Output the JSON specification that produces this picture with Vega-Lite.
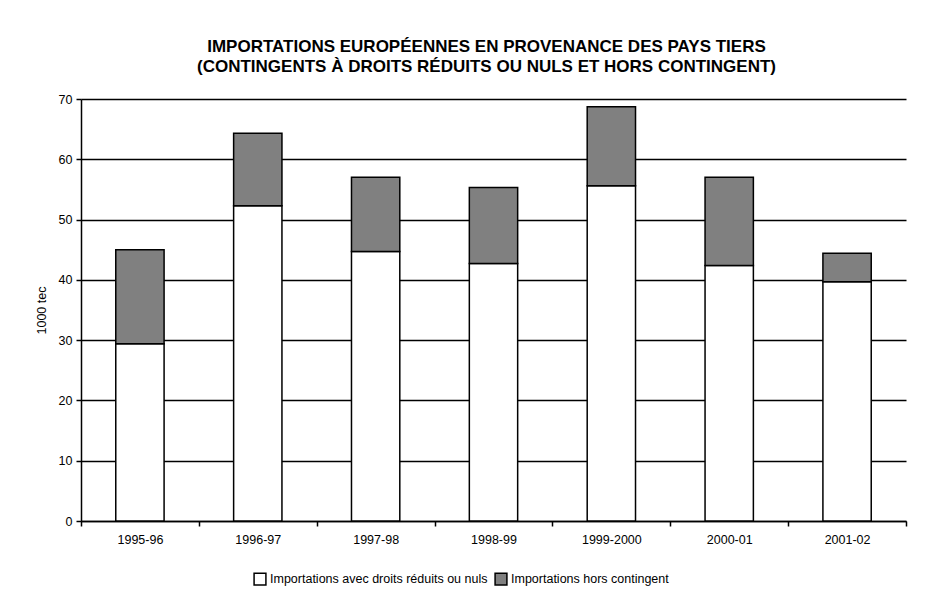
{
  "$schema": "https://vega.github.io/schema/vega-lite/v6.json",
  "autosize": "none",
  "width": 825,
  "height": 422,
  "padding": {"left": 81, "top": 99, "right": 23, "bottom": 71},
  "background": "white",
  "title": {
    "text": ["IMPORTATIONS EUROPÉENNES EN PROVENANCE DES PAYS TIERS", "(CONTINGENTS À DROITS RÉDUITS OU NULS ET HORS CONTINGENT)"],
    "font": "Liberation Sans",
    "fontSize": 17,
    "fontWeight": "bold",
    "color": "black",
    "lineHeight": 20,
    "offset": 17,
    "anchor": "middle",
    "dx": -7
  },
  "data": {
    "values": [
      {"campagne": "1995-96", "serie": "Importations avec droits réduits ou nuls", "ordre": 1, "valeur": 29.4},
      {"campagne": "1995-96", "serie": "Importations hors contingent", "ordre": 2, "valeur": 15.6},
      {"campagne": "1996-97", "serie": "Importations avec droits réduits ou nuls", "ordre": 1, "valeur": 52.3},
      {"campagne": "1996-97", "serie": "Importations hors contingent", "ordre": 2, "valeur": 12.0},
      {"campagne": "1997-98", "serie": "Importations avec droits réduits ou nuls", "ordre": 1, "valeur": 44.7},
      {"campagne": "1997-98", "serie": "Importations hors contingent", "ordre": 2, "valeur": 12.3},
      {"campagne": "1998-99", "serie": "Importations avec droits réduits ou nuls", "ordre": 1, "valeur": 42.7},
      {"campagne": "1998-99", "serie": "Importations hors contingent", "ordre": 2, "valeur": 12.6},
      {"campagne": "1999-2000", "serie": "Importations avec droits réduits ou nuls", "ordre": 1, "valeur": 55.6},
      {"campagne": "1999-2000", "serie": "Importations hors contingent", "ordre": 2, "valeur": 13.1},
      {"campagne": "2000-01", "serie": "Importations avec droits réduits ou nuls", "ordre": 1, "valeur": 42.4},
      {"campagne": "2000-01", "serie": "Importations hors contingent", "ordre": 2, "valeur": 14.6},
      {"campagne": "2001-02", "serie": "Importations avec droits réduits ou nuls", "ordre": 1, "valeur": 39.7},
      {"campagne": "2001-02", "serie": "Importations hors contingent", "ordre": 2, "valeur": 4.7}
    ]
  },
  "mark": {"type": "bar", "stroke": "black", "strokeWidth": 1.5, "width": {"band": 0.41}},
  "encoding": {
    "x": {
      "field": "campagne",
      "type": "nominal",
      "sort": null,
      "scale": {"paddingInner": 0, "paddingOuter": 0},
      "axis": {
        "title": null,
        "labelAngle": 0,
        "labelFont": "Liberation Sans",
        "labelFontSize": 12.5,
        "labelColor": "black",
        "labelPadding": 7,
        "tickBand": "extent",
        "tickColor": "black",
        "tickSize": 5,
        "tickWidth": 1.5,
        "domainColor": "black",
        "domainWidth": 1.5,
        "grid": false
      }
    },
    "y": {
      "field": "valeur",
      "type": "quantitative",
      "stack": "zero",
      "scale": {"domain": [0, 70]},
      "axis": {
        "title": "1000 tec",
        "titleFont": "Liberation Sans",
        "titleFontSize": 12.5,
        "titleFontWeight": "normal",
        "titleColor": "black",
        "titlePadding": 10,
        "values": [0, 10, 20, 30, 40, 50, 60, 70],
        "labelFont": "Liberation Sans",
        "labelFontSize": 12.5,
        "labelColor": "black",
        "labelPadding": 4,
        "tickColor": "black",
        "tickSize": 5,
        "tickWidth": 1.5,
        "domainColor": "black",
        "domainWidth": 1.5,
        "grid": true,
        "gridColor": "black",
        "gridWidth": 1.5,
        "gridOpacity": 1
      }
    },
    "color": {
      "field": "serie",
      "type": "nominal",
      "scale": {
        "domain": ["Importations avec droits réduits ou nuls", "Importations hors contingent"],
        "range": ["white", "#808080"]
      },
      "legend": {
        "title": null,
        "orient": "none",
        "legendX": 172,
        "legendY": 473,
        "padding": 0,
        "direction": "horizontal",
        "symbolType": "square",
        "symbolSize": 140,
        "symbolStrokeColor": "black",
        "symbolStrokeWidth": 1.5,
        "symbolOpacity": 1,
        "labelFont": "Liberation Sans",
        "labelFontSize": 12.5,
        "labelColor": "black",
        "labelLimit": 400,
        "labelOffset": 3,
        "columnPadding": 4
      }
    },
    "order": {"field": "ordre", "type": "quantitative"}
  },
  "config": {
    "view": {"stroke": null}
  }
}
